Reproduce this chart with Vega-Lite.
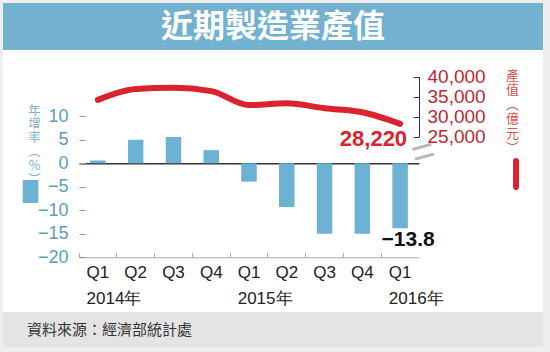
{
  "$schema": "https://vega.github.io/schema/vega-lite/v6.json",
  "background": "#eeeeee",
  "padding": {"left": 3, "right": 7, "top": 3, "bottom": 5},
  "spacing": 0,
  "bounds": "flush",
  "config": {"view": {"stroke": null}, "axis": {"grid": false}, "legend": {"padding": 0}},
  "vconcat": [
    {
      "width": 540,
      "height": 47,
      "view": {"fill": "#72b1cf", "stroke": null},
      "data": {"values": [{"t": "近期製造業產值"}]},
      "mark": {"type": "text", "font": "Noto Sans CJK TC", "fontSize": 32, "fontWeight": "bold", "color": "white", "baseline": "middle", "align": "center"},
      "encoding": {"text": {"field": "t"}}
    },
    {
      "width": 540,
      "height": 262,
      "view": {"fill": "white", "stroke": null},
      "data": {"values": [
        {"period": "2014Q1", "growth": 0.6, "value": 34200},
        {"period": "2014Q2", "growth": 5.0, "value": 36900},
        {"period": "2014Q3", "growth": 5.6, "value": 37250},
        {"period": "2014Q4", "growth": 2.8, "value": 36400},
        {"period": "2015Q1", "growth": -3.9, "value": 32900},
        {"period": "2015Q2", "growth": -9.3, "value": 33350},
        {"period": "2015Q3", "growth": -15.0, "value": 32100},
        {"period": "2015Q4", "growth": -15.0, "value": 31100},
        {"period": "2016Q1", "growth": -13.8, "value": 28220}
      ]},
      "layer": [
        {
          "encoding": {
            "x": {
              "field": "period", "type": "ordinal", "sort": null,
              "scale": {"type": "band", "range": [76, 416], "paddingInner": 0, "paddingOuter": 0},
              "axis": {
                "orient": "bottom", "offset": -54.7, "title": null, "labelAngle": 0,
                "bandPosition": 0, "labelOffset": -11.3, "labelAlign": "left", "labelBaseline": "top",
                "labelPadding": 12, "tickSize": -5, "tickColor": "#aaaaaa", "domainColor": "#aaaaaa",
                "labelFont": "Liberation Sans", "labelFontSize": 17, "labelColor": "#222222",
                "labelLineHeight": 26,
                "labelExpr": "substring(datum.value,4)=='Q1' ? [substring(datum.value,4), substring(datum.value,0,4)+'年'] : substring(datum.value,4)"
              }
            },
            "y": {
              "field": "growth", "type": "quantitative",
              "scale": {"domain": [-20, 10], "range": [207.3, 66.3], "nice": false, "zero": false},
              "axis": {
                "orient": "left", "offset": -82, "values": [-20, -15, -10, -5, 0, 5, 10],
                "domain": false, "tickSize": 6, "tickColor": "#6ba3c4", "labelPadding": 11,
                "labelFont": "Liberation Sans", "labelFontSize": 18, "labelColor": "#5d9cc0",
                "title": ["年", "增", "率", "︵", "%", "︶"], "titleAngle": 0, "titleX": -51, "titleY": 54,
                "titleAlign": "center", "titleBaseline": "top", "titleFontSize": 12.5, "titleLineHeight": 13.8,
                "titleColor": "#7eb2cf", "titleFont": "Noto Sans CJK TC", "titleFontWeight": "normal"
              }
            }
          },
          "layer": [
            {
              "mark": {"type": "bar", "width": {"band": 0.41}},
              "encoding": {
                "fill": {
                  "datum": "年增率", "type": "nominal",
                  "scale": {"range": ["#6cb2d3"]},
                  "legend": {
                    "orient": "none", "legendX": 16, "legendY": 177, "title": null, "labelExpr": "''",
                    "symbolType": "M-0.68,-1H0.68V1H-0.68Z", "symbolSize": 529, "symbolStrokeWidth": 0,
                    "symbolOpacity": 1,
                    "encode": {"symbols": {"update": {"fill": {"value": "#5a93b0"}, "opacity": {"value": 1}}}}
                  }
                }
              }
            },
            {
              "transform": [{"filter": "datum.period == '2016Q1'"}],
              "mark": {"type": "text", "font": "Liberation Sans", "fontSize": 21, "fontWeight": "bold", "color": "#111111", "dx": 8, "dy": 12, "baseline": "middle", "align": "center"},
              "encoding": {"text": {"field": "growth", "format": ".1f"}}
            }
          ]
        },
        {
          "encoding": {
            "x": {
              "field": "period", "type": "ordinal", "sort": null,
              "scale": {"type": "band", "range": [76, 416], "paddingInner": 0, "paddingOuter": 0},
              "axis": {
                "orient": "bottom", "offset": -148.7, "title": null, "labels": false, "ticks": false,
                "domain": true, "domainColor": "#333333", "domainWidth": 1.5
              }
            },
            "y": {
              "field": "value", "type": "quantitative",
              "scale": {"domain": [25000, 40000], "range": [86.7, 26.7], "nice": false, "zero": false},
              "axis": {
                "orient": "right", "offset": -124, "values": [17500, 25000, 30000, 35000, 40000],
                "labelExpr": "datum.value < 20000 ? '0' : format(datum.value, ',')",
                "domain": true, "domainColor": "#333333", "tickSize": -6, "tickColor": "#333333",
                "tickOpacity": {"condition": {"test": "datum.value < 20000", "value": 0}, "value": 1},
                "labelPadding": 14, "labelFont": "Liberation Sans", "labelFontSize": 19, "labelColor": "#c1272d",
                "title": ["產", "值", "︵", "億", "元", "︶"], "titleAngle": 0, "titleX": 93, "titleY": 19,
                "titleAlign": "center", "titleBaseline": "top", "titleFontSize": 13, "titleLineHeight": 14.5,
                "titleColor": "#d9534f", "titleFont": "Noto Sans CJK TC", "titleFontWeight": "normal"
              }
            }
          },
          "layer": [
            {
              "mark": {"type": "line", "strokeWidth": 6, "interpolate": "monotone", "strokeCap": "round"},
              "encoding": {
                "stroke": {
                  "datum": "產值", "type": "nominal",
                  "scale": {"range": ["#d9232e"]},
                  "legend": {
                    "orient": "none", "legendX": 497, "legendY": 155, "title": null, "labelExpr": "''",
                    "symbolType": "M0,-1V1", "symbolSize": 676, "symbolStrokeWidth": 6,
                    "encode": {"symbols": {"update": {"strokeCap": {"value": "round"}}}}
                  }
                }
              }
            },
            {
              "transform": [{"filter": "datum.period == '2016Q1'"}],
              "mark": {"type": "text", "font": "Liberation Sans", "fontSize": 22, "fontWeight": "bold", "color": "#d9232e", "dx": 7, "dy": 15, "baseline": "middle", "align": "right"},
              "encoding": {"text": {"field": "value", "format": ","}}
            },
            {
              "transform": [{"filter": "datum.period == '2016Q1'"}],
              "mark": {"type": "text", "text": "=", "font": "Liberation Sans", "fontSize": 40, "color": "#b8b8b8", "angle": -15, "dx": 15, "dy": 34, "baseline": "middle", "align": "center"}
            }
          ]
        }
      ],
      "resolve": {"scale": {"y": "independent"}, "axis": {"x": "independent"}}
    },
    {
      "width": 540,
      "height": 35,
      "view": {"fill": "#e4e4e4", "stroke": null},
      "title": {"text": "資料來源：經濟部統計處", "orient": "bottom", "anchor": "start", "offset": -24, "dx": 24, "font": "Noto Sans CJK TC", "fontSize": 15, "fontWeight": "normal", "color": "#333333", "baseline": "top"},
      "data": {"values": [{"t": ""}]},
      "mark": {"type": "text"},
      "encoding": {"text": {"field": "t"}}
    }
  ]
}
